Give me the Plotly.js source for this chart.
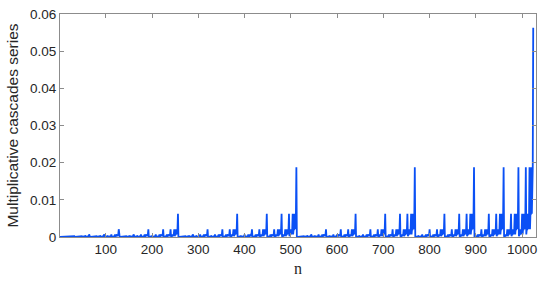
<!DOCTYPE html>
<html>
<head>
<meta charset="utf-8">
<script src="https://cdn.plot.ly/plotly-3.0.1.min.js"></script>
<style>
  html, body { margin: 0; padding: 0; background: #fff; }
  #plot_cascade { width: 550px; height: 283px; }
</style>
</head>
<body>
<div id="plot_cascade"></div>
<script>
/** ------------------------- Multiplicative cascades series ------------------------ **/
/* heights of the spike levels (level 0 = lowest, level 10 = tallest) */
let levelValues = [0.00000095, 0.0000029, 0.0000086, 0.0000257, 0.0000772, 0.00023,
                   0.000695, 0.00209, 0.00626, 0.01877, 0.0563];

/* level code of every sample n = 1..1024, 16 samples per string ('a' = level 10) */
let levelCodes = [
    "0112122312232334", "1223233423343445", "1223233423343445", "2334344534454556",
    "1223233423343445", "2334344534454556", "2334344534454556", "3445455645565667",
    "1223233423343445", "2334344534454556", "2334344534454556", "3445455645565667",
    "2334344534454556", "3445455645565667", "3445455645565667", "4556566756676778",
    "1223233423343445", "2334344534454556", "2334344534454556", "3445455645565667",
    "2334344534454556", "3445455645565667", "3445455645565667", "4556566756676778",
    "2334344534454556", "3445455645565667", "3445455645565667", "4556566756676778",
    "3445455645565667", "4556566756676778", "4556566756676778", "5667677867787889",
    "1223233423343445", "2334344534454556", "2334344534454556", "3445455645565667",
    "2334344534454556", "3445455645565667", "3445455645565667", "4556566756676778",
    "2334344534454556", "3445455645565667", "3445455645565667", "4556566756676778",
    "3445455645565667", "4556566756676778", "4556566756676778", "5667677867787889",
    "2334344534454556", "3445455645565667", "3445455645565667", "4556566756676778",
    "3445455645565667", "4556566756676778", "4556566756676778", "5667677867787889",
    "3445455645565667", "4556566756676778", "4556566756676778", "5667677867787889",
    "4556566756676778", "5667677867787889", "5667677867787889", "677878897889899a"
];

let xTicks = [100, 200, 300, 400, 500, 600, 700, 800, 900, 1000];
let yTicks = [0, 0.01, 0.02, 0.03, 0.04, 0.05, 0.06];
let yTickText = ["0", "0.01", "0.02", "0.03", "0.04", "0.05", "0.06"];

/* turn the codes into the series */
let n = [];
let series = [];
let codes = levelCodes.join("");
for (let i = 0; i < codes.length; i++) {
    n.push(i + 1);
    series.push(levelValues[parseInt(codes[i], 16)]);
}

let trace_cascade = {
    x: n,
    y: series,
    type: "scatter",
    mode: "lines",
    line: {color: "rgb(10,80,245)", width: 1.8},
    hoverinfo: "skip"
};

/* axis style shared by x and y */
let axisStyle = {
    showline: true,
    linecolor: "rgb(140,140,140)",
    linewidth: 1,
    mirror: "ticks",
    ticks: "inside",
    ticklen: 4,
    tickwidth: 1,
    tickcolor: "rgb(140,140,140)",
    showgrid: false,
    zeroline: false,
    tickfont: {family: "Liberation Sans, Arial, sans-serif", size: 13.5, color: "rgb(38,38,38)"}
};

let layout = {
    width: 550,
    height: 283,
    margin: {l: 60, r: 14, t: 14, b: 46},
    paper_bgcolor: "#fff",
    plot_bgcolor: "#fff",
    showlegend: false,
    xaxis: Object.assign({}, axisStyle, {
        range: [1, 1030],
        tickmode: "array",
        tickvals: xTicks,
        title: {text: "n", standoff: 6,
                font: {family: "Liberation Serif, DejaVu Serif, serif", size: 16, color: "rgb(38,38,38)"}}
    }),
    yaxis: Object.assign({}, axisStyle, {
        range: [0, 0.06],
        tickmode: "array",
        tickvals: yTicks,
        ticktext: yTickText,
        title: {text: "Multiplicative cascades series", standoff: 7,
                font: {family: "Liberation Sans, Arial, sans-serif", size: 15.5, color: "rgb(38,38,38)"}}
    })
};

Plotly.newPlot("plot_cascade", [trace_cascade], layout, {displayModeBar: false, staticPlot: true});
</script>
</body>
</html>
